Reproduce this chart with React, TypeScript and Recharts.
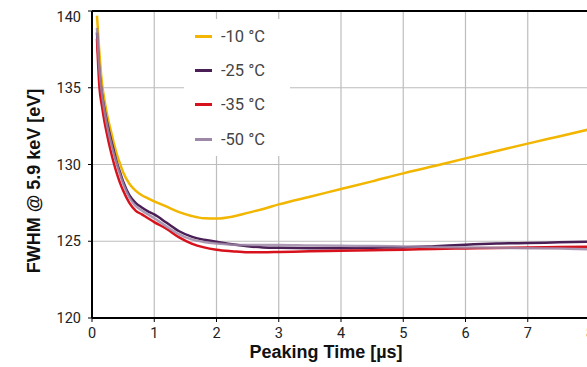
// FWHM vs peaking time, four temperatures.
import { LineChart, Line, XAxis, YAxis, CartesianGrid, Legend, ReferenceLine } from 'recharts';

const peakingTime = [
  0.08, 0.12, 0.16, 0.2, 0.25, 0.3, 0.35, 0.4, 0.45, 0.5, 0.6, 0.7, 0.8, 0.9, 1.0,
  1.2, 1.4, 1.6, 1.8, 2.0, 2.25, 2.5, 2.75, 3.0, 3.5, 4.0, 4.5, 5.0, 5.5, 6.0, 6.5, 7.0, 7.5, 8.0,
];
const fwhmMinus10 = [
  139.7, 137.2, 135.3, 134.2, 133.1, 132.25, 131.4, 130.65, 130.05, 129.5, 128.75, 128.3, 128.0, 127.8, 127.6,
  127.25, 126.9, 126.65, 126.5, 126.48, 126.6, 126.85, 127.1, 127.4, 127.9, 128.4, 128.9, 129.42, 129.9, 130.4, 130.88, 131.36, 131.83, 132.3,
];
const fwhmMinus25 = [
  138.6, 136.0, 134.6, 133.6, 132.6, 131.7, 130.9, 130.1, 129.5, 128.9, 128.0, 127.5, 127.2, 126.95, 126.75,
  126.2, 125.65, 125.3, 125.1, 124.97, 124.8, 124.68, 124.6, 124.57, 124.55, 124.55, 124.58, 124.6, 124.68, 124.78, 124.85, 124.88, 124.93, 124.97,
];
const fwhmMinus35 = [
  138.2, 135.0, 133.8, 132.8, 131.8, 130.9, 130.1, 129.4, 128.8, 128.3, 127.5, 127.0, 126.75, 126.5, 126.25,
  125.8, 125.25, 124.85, 124.6, 124.45, 124.35, 124.28, 124.28, 124.3, 124.35, 124.38, 124.42, 124.45, 124.5, 124.53, 124.56, 124.6, 124.62, 124.65,
];
const fwhmMinus50 = [
  138.9, 136.2, 134.6, 133.5, 132.4, 131.5, 130.7, 130.0, 129.35, 128.75, 127.85, 127.3, 127.0, 126.75, 126.5,
  125.95, 125.45, 125.12, 124.95, 124.85, 124.78, 124.75, 124.75, 124.75, 124.72, 124.7, 124.69, 124.66, 124.63, 124.6, 124.57, 124.55, 124.52, 124.48,
];

const xTicks = [0, 1, 2, 3, 4, 5, 6, 7, 8];
const yTicks = [120, 125, 130, 135, 140];

const series = [
  { key: 'm10', label: '-10 °C', color: '#f2b600', values: fwhmMinus10 },
  { key: 'm25', label: '-25 °C', color: '#4a1f55', values: fwhmMinus25 },
  { key: 'm35', label: '-35 °C', color: '#d8121c', values: fwhmMinus35 },
  { key: 'm50', label: '-50 °C', color: '#9d88a8', values: fwhmMinus50 },
];

const data = peakingTime.map((t, i) => {
  const row: Record<string, number> = { t };
  series.forEach((s) => { row[s.key] = s.values[i]; });
  return row;
});

const tickFont = { fontFamily: 'Roboto', fontSize: 14.5, fill: '#222' };
const titleFont = { fontFamily: '"Liberation Sans", Arial, sans-serif', fontSize: 18, fontWeight: 700, fill: '#111' };

function YTick({ x, y, payload }: any) {
  // top label sits a bit under the frame line in the original
  const dy = payload.value === 140 ? 6 : 0;
  return (
    <text x={x} y={y + dy} dy="0.355em" textAnchor="end" {...tickFont}>
      {payload.value}
    </text>
  );
}

function LegendBox({ payload }: any) {
  return (
    <div style={{ background: '#fff', width: 106, height: 137 }}>
      {(payload || []).map((p: any) => (
        <div key={p.value} style={{ display: 'flex', alignItems: 'center', height: 34.4 }}>
          <span style={{ display: 'inline-block', width: 17, height: 3, background: p.color, marginLeft: 11, marginRight: 9 }} />
          <span style={{ fontFamily: 'Roboto', fontSize: 16.5, color: '#444' }}>{p.value}</span>
        </div>
      ))}
    </div>
  );
}

export default function App() {
  return (
    <div style={{ position: 'absolute', left: 0, top: 0, width: 587, height: 367, overflow: 'hidden', background: '#fff' }}>
      <LineChart width={625} height={367} data={data} margin={{ top: 11, right: 35, left: 0, bottom: 0 }}>
        <CartesianGrid stroke="#bdbdbd" strokeWidth={1.2} />
        <XAxis
          dataKey="t"
          type="number"
          domain={[0, 8]}
          ticks={xTicks}
          height={49}
          tickSize={4}
          tickMargin={6}
          tick={tickFont}
          axisLine={{ stroke: '#000', strokeWidth: 2 }}
          tickLine={{ stroke: '#000' }}
          label={{
            content: () => (
              <text x={326} y={358} textAnchor="middle" {...titleFont}>Peaking Time [µs]</text>
            ),
          }}
        />
        <YAxis
          type="number"
          domain={[120, 140]}
          ticks={yTicks}
          width={92}
          tickSize={4}
          tickMargin={7}
          tick={<YTick />}
          axisLine={{ stroke: '#000', strokeWidth: 2 }}
          tickLine={{ stroke: '#000' }}
          label={{
            content: () => (
              <text x={40} y={181} textAnchor="middle" transform="rotate(-90 40 181)" {...titleFont}>
                FWHM @ 5.9 keV [eV]
              </text>
            ),
          }}
        />
        <ReferenceLine y={140} stroke="#000" strokeWidth={2} />
        <Legend
          layout="vertical"
          align="center"
          verticalAlign="middle"
          content={<LegendBox />}
          wrapperStyle={{ left: 184, top: 19, width: 106, height: 137 }}
        />
        {series.map((s) => (
          <Line
            key={s.key}
            type="monotone"
            dataKey={s.key}
            name={s.label}
            stroke={s.color}
            strokeWidth={2.5}
            strokeOpacity={s.key === 'm50' ? 0.85 : 1}
            dot={false}
            isAnimationActive={false}
          />
        ))}
      </LineChart>
    </div>
  );
}
